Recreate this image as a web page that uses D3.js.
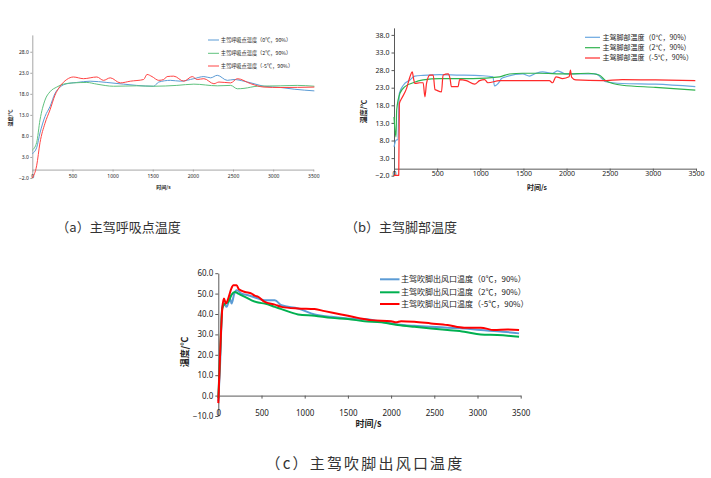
<!DOCTYPE html>
<html><head><meta charset="utf-8">
<script src="https://cdn.jsdelivr.net/npm/d3@7"></script>
<style>
html,body{margin:0;padding:0;background:#fff;}
svg{display:block;font-family:"Noto Sans CJK SC","Noto Sans",sans-serif;}
</style></head>
<body><svg id="c" width="711" height="478"></svg>
<script>
// ---------- DATA ----------
const xTicks = [0, 500, 1000, 1500, 2000, 2500, 3000, 3500];
const aYTicks = [-2, 3, 8, 13, 18, 23, 28];
const bYTicks = [-2, 3, 8, 13, 18, 23, 28, 33, 38];
const cYTicks = [-10, 0, 10, 20, 30, 40, 50, 60];

const aNames = ["主驾呼吸点温度（0℃，90%）", "主驾呼吸点温度（2℃，90%）", "主驾呼吸点温度（-5℃，90%）"];
const bNames = ["主驾脚部温度（0℃，90%）", "主驾脚部温度（2℃，90%）", "主驾脚部温度（-5℃，90%）"];
const cNames = ["主驾吹脚出风口温度（0℃，90%）", "主驾吹脚出风口温度（2℃，90%）", "主驾吹脚出风口温度（-5℃，90%）"];
const captions = ["（a）主驾呼吸点温度", "（b）主驾脚部温度", "（c）主驾吹脚出风口温度"];

// panel a: [time s, temp ℃]
const aBlue = [[0,3.8],[54,5.2],[96,8.7],[158,12.6],[221,15],[283,18.1],[346,19.6],[429,20.4],[554,20.7],[721,21.0],[929,20.7],[1137,20.3],[1300,20.0],[1512,19.8],[1575,20.8],[1721,21.2],[1846,21.0],[2012,21.6],[2137,22.1],[2221,21.8],[2304,22.4],[2429,21.2],[2512,21.4],[2637,21.0],[2762,20.4],[2887,19.8],[3096,19.5],[3262,19.1],[3513,18.7]];
const aGreen = [[0,4.6],[54,6.4],[96,11.8],[158,16.5],[221,18.5],[304,19.6],[388,20.3],[512,20.6],[679,20.7],[804,20.3],[1012,19.8],[1300,19.9],[1512,19.8],[1800,20.0],[2012,20.3],[2304,19.9],[2471,20.0],[2554,19.2],[2637,19.3],[2804,19.8],[3096,19.9],[3300,20.0],[3513,19.8]];
const aRed = [[0,-2.0],[54,0.9],[96,6.4],[158,11],[221,14.2],[283,17.7],[346,19.8],[429,21.4],[512,22.0],[637,21.6],[804,22.0],[887,21.2],[971,21.8],[1096,20.6],[1221,21.0],[1387,21.4],[1429,22.6],[1491,22.1],[1575,21.2],[1637,21.4],[1679,22.1],[1762,22.2],[1887,21.0],[1992,22.1],[2054,21.4],[2137,21.6],[2262,20.4],[2325,20.8],[2471,20.6],[2554,21.6],[2721,20.4],[2887,19.6],[3096,19.5],[3513,19.6]];

// panel b
const bBlue = [[0,6.2],[23,8.1],[45,8.3],[62,21.4],[108,23.7],[185,25.2],[242,26.3],[338,26.5],[530,26.7],[723,26.6],[1030,26.4],[1146,26.1],[1165,23.5],[1223,24.7],[1245,25.6],[1300,26.1],[1492,26.9],[1569,26.3],[1646,27.1],[1723,27.5],[1838,27.1],[1896,27.8],[1992,26.9],[2184,26.9],[2338,26.9],[2454,24.7],[2646,24.2],[3031,24.0],[3492,23.3]];
const bGreen = [[0,14.7],[23,9.0],[31,16.6],[69,21.4],[127,23.3],[223,24.4],[338,25.2],[530,25.6],[915,25.6],[1223,26.1],[1338,26.9],[1492,27.1],[1684,27.1],[1992,26.9],[2253,27.1],[2377,26.6],[2454,25.0],[2646,23.7],[3031,23.1],[3492,22.3]];
const bRed = [[0,-1.9],[55,-1.9],[62,18.5],[88,19.9],[146,22.8],[185,26.1],[212,27.5],[223,26.1],[242,24.2],[300,24.4],[338,24.4],[358,20.4],[377,24.2],[415,26.6],[454,26.6],[475,22.5],[492,22.3],[550,21.8],[569,26.6],[627,26.9],[650,25.5],[665,23.3],[742,23.3],[761,25.3],[838,25.0],[934,24.0],[992,25.0],[1050,25.3],[1088,24.4],[1223,25.0],[1492,25.0],[1800,25.0],[1838,24.4],[1877,26.1],[1954,25.6],[2030,26.1],[2045,28.0],[2058,26.0],[2107,25.2],[2415,25.0],[2646,25.3],[3031,25.2],[3492,25.0]];

// panel c
const cBlue = [[0,-2.8],[19,13.4],[46,43.5],[69,45.1],[96,43.5],[135,47.6],[154,45.1],[185,50.0],[212,51.6],[269,50.0],[346,49.2],[462,47.6],[538,46.7],[654,46.7],[731,44.3],[923,42.7],[1115,39.8],[1308,38.6],[1500,37.8],[1692,37.5],[1885,36.2],[2077,34.9],[2269,34.2],[2461,33.7],[2654,33.3],[2846,32.9],[3038,32.1],[3231,31.6],[3481,30.5]];
const cGreen = [[0,-1.2],[19,18.3],[46,42.7],[77,45.1],[115,45.9],[154,49.5],[192,50.8],[231,50.0],[308,48.4],[385,46.7],[462,45.6],[538,45.1],[654,43.5],[731,42.4],[923,39.8],[1115,39.1],[1308,38.1],[1500,37.5],[1692,36.5],[1885,35.9],[2077,34.6],[2269,33.7],[2461,32.9],[2654,32.1],[2846,31.3],[3038,30.0],[3231,29.7],[3481,28.9]];
const cRed = [[0,-3.7],[19,18.3],[46,42.7],[65,47.6],[88,45.1],[115,47.6],[154,52.8],[173,54.1],[212,54.1],[238,52.1],[308,50.8],[385,50.0],[420,49.0],[462,48.4],[538,45.9],[654,44.6],[731,43.5],[923,42.7],[1115,42.4],[1231,41.4],[1423,39.8],[1615,38.1],[1769,37.0],[2000,36.5],[2058,35.9],[2115,36.5],[2269,36.2],[2461,35.4],[2654,34.6],[2846,33.3],[3038,33.3],[3192,32.1],[3346,32.4],[3481,32.2]];

// ---------- DRAW ----------
const svg = d3.select("#c");

function panel(o) {
  const x = d3.scaleLinear().domain([0, 3500]).range(o.xr);
  const y = d3.scaleLinear().domain(o.yd).range(o.yr);
  const g = svg.append("g");
  const y0 = y(0);
  // y axis
  const ya = g.append("g").attr("transform", `translate(${o.xr[0]},0)`)
    .call(d3.axisLeft(y).tickValues(o.yTicks).tickFormat(d3.format(".1f")).tickSize(o.tick).tickSizeOuter(0));
  // x axis at y=0
  const xa = g.append("g").attr("transform", `translate(0,${y0})`)
    .call(d3.axisBottom(x).tickValues(xTicks).tickFormat(d3.format("d")).tickSize(o.tick).tickSizeOuter(0));
  [ya, xa].forEach(a => {
    a.select(".domain").attr("stroke", o.axisColor).attr("stroke-width", 1);
    a.selectAll(".tick line").attr("stroke", o.axisColor);
    a.selectAll("text").attr("font-size", o.fs).attr("fill", "#222").attr("font-family", "'Noto Sans','Noto Sans CJK SC',sans-serif");
  });
  ya.selectAll(".tick text").attr("x", -o.tick - o.lpad);
  // x tick labels placed at bottom level (same as lowest y tick)
  xa.selectAll(".tick text").attr("y", y(o.yd[0]) - y0 - o.fs * 0.35).attr("dy", "0.32em");
  // lines
  const line = d3.line().x(d => x(d[0])).y(d => y(d[1])).curve(d3.curveMonotoneX);
  o.series.forEach((s, i) => {
    g.append("path").datum(s).attr("fill", "none").attr("stroke", o.colors[i])
      .attr("stroke-width", o.lw).attr("stroke-linejoin", "round").attr("d", line);
  });
  // legend
  o.names.forEach((n, i) => {
    const ly = o.leg.y[i];
    g.append("line").attr("x1", o.leg.x).attr("x2", o.leg.x + o.leg.len).attr("y1", ly).attr("y2", ly)
      .attr("stroke", o.colors[i]).attr("stroke-width", o.legLw);
    g.append("text").attr("x", o.leg.x + o.leg.len + o.leg.gap).attr("y", ly).attr("dy", "0.35em")
      .attr("font-size", o.legFs).attr("fill", "#222").text(n);
  });
  // axis titles
  g.append("text").attr("x", o.xt[0]).attr("y", o.xt[1]).attr("text-anchor", "middle").attr("dy", "0.35em")
    .attr("font-size", o.tfs).attr("font-weight", "bold").attr("fill", "#222").text("时间/s");
  g.append("text").attr("transform", `translate(${o.yt[0]},${o.yt[1]}) rotate(-90)`).attr("text-anchor", "middle").attr("dy", "0.35em")
    .attr("font-size", o.tfs).attr("font-weight", "bold").attr("fill", "#222").text("温度/℃");
  // caption
  g.append("text").attr("x", o.cap[0]).attr("y", o.cap[1]).attr("dy", "0.35em").attr("text-anchor", "middle")
    .attr("font-size", o.capFs).attr("letter-spacing", o.capLs).attr("fill", "#333").text(o.caption);
}

panel({
  xr: [32.3, 313.3], yd: [-2, 32], yr: [178, 34.9], yTicks: aYTicks, tick: 2, lpad: 1.5,
  axisColor: "#a6a6a6", fs: 5, lw: 1, series: [aBlue, aGreen, aRed],
  colors: ["#5b9bd5", "#5fc27e", "#ff4444"], names: aNames,
  leg: { x: 208, len: 11, gap: 1.8, y: [40, 53.3, 66] }, legLw: 1, legFs: 5.2,
  xt: [163.5, 187], yt: [10, 118], tfs: 5,
  cap: [118.5, 227], capFs: 13, capLs: 0, caption: captions[0]
});
panel({
  xr: [394, 696], yd: [-2, 40], yr: [175.7, 27.86], yTicks: bYTicks, tick: 2.5, lpad: 2,
  axisColor: "#595959", fs: 7, lw: 1.2, series: [bBlue, bGreen, bRed],
  colors: ["#6aa8e0", "#2fb34f", "#ff2a2a"], names: bNames,
  leg: { x: 585, len: 15, gap: 2.5, y: [37.3, 47.7, 58] }, legLw: 1.2, legFs: 7,
  xt: [537, 187.5], yt: [363.5, 111.5], tfs: 7,
  cap: [401, 227], capFs: 13, capLs: 0, caption: captions[1]
});
panel({
  xr: [218.3, 520.7], yd: [-10, 60], yr: [416, 273.2], yTicks: cYTicks, tick: 3, lpad: 2,
  axisColor: "#595959", fs: 8, lw: 2, series: [cBlue, cGreen, cRed],
  colors: ["#5b9bd5", "#00b050", "#ff0000"], names: cNames,
  leg: { x: 380, len: 19.5, gap: 1.5, y: [279.3, 292.3, 304] }, legLw: 2, legFs: 8,
  xt: [368.5, 424], yt: [184.5, 352], tfs: 9,
  cap: [365, 463.5], capFs: 15, capLs: 2.2, caption: captions[2]
});
</script></body></html>
